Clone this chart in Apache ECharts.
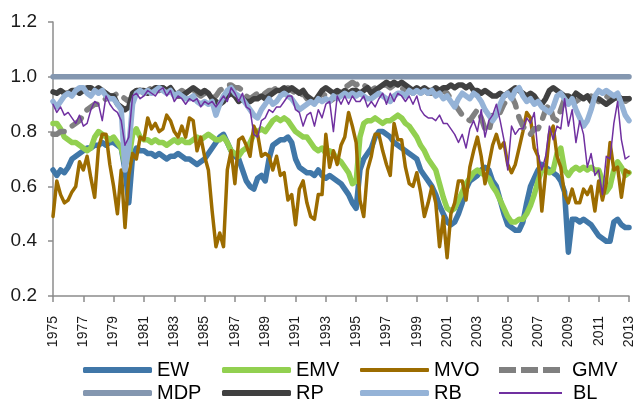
<!DOCTYPE html>
<html>
<head>
<meta charset="utf-8">
<script src="https://cdn.jsdelivr.net/npm/echarts@6/dist/echarts.min.js"></script>
<style>
  html, body { margin: 0; padding: 0; background: #fff; }
  #chart { width: 636px; height: 402px; }
</style>
</head>
<body>
<div id="chart"></div>
<script>
// quarterly points, 1975 Q1 .. 2013 Q1
var quarters = []
for (var yr = 1975; yr <= 2013; yr++) {
  for (var q = 1; q <= 4; q++) {
    if (yr === 2013 && q > 1) break
    quarters.push(yr + ' Q' + q)
  }
}

var EW = [
  0.66, 0.64, 0.66, 0.65, 0.67, 0.70, 0.71, 0.72, 0.73, 0.74, 0.74, 0.75,
  0.75, 0.76, 0.75, 0.76, 0.76, 0.75, 0.74, 0.66, 0.54, 0.71, 0.74, 0.73,
  0.73, 0.72, 0.72, 0.71, 0.72, 0.71, 0.70, 0.71, 0.71, 0.72, 0.71, 0.70,
  0.70, 0.69, 0.68, 0.69, 0.70, 0.72, 0.74, 0.76, 0.78, 0.79, 0.76, 0.73,
  0.71, 0.70, 0.66, 0.62, 0.60, 0.59, 0.63, 0.64, 0.62, 0.70, 0.75, 0.76,
  0.77, 0.77, 0.78, 0.76, 0.70, 0.67, 0.66, 0.65, 0.65, 0.64, 0.66, 0.64,
  0.63, 0.64, 0.63, 0.62, 0.61, 0.59, 0.57, 0.54, 0.52, 0.66, 0.70, 0.72,
  0.74, 0.78, 0.80, 0.80, 0.79, 0.78, 0.76, 0.75, 0.74, 0.73, 0.72, 0.71,
  0.70, 0.66, 0.64, 0.62, 0.60, 0.57, 0.53, 0.50, 0.47, 0.46, 0.47, 0.50,
  0.54, 0.59, 0.62, 0.63, 0.64, 0.66, 0.67, 0.66, 0.62, 0.60, 0.55, 0.50,
  0.46, 0.45, 0.44, 0.44, 0.47, 0.54, 0.60, 0.63, 0.66, 0.68, 0.67, 0.66,
  0.65, 0.64, 0.62, 0.58, 0.36, 0.48, 0.48, 0.47, 0.48, 0.47, 0.46, 0.44,
  0.42, 0.41, 0.40, 0.40, 0.47, 0.48, 0.46, 0.45, 0.45
]
var EMV = [
  0.83, 0.83, 0.81, 0.78, 0.77, 0.76, 0.76, 0.75, 0.74, 0.73, 0.74, 0.78,
  0.80, 0.79, 0.78, 0.77, 0.78, 0.76, 0.74, 0.68, 0.70, 0.79, 0.81, 0.78,
  0.77, 0.77, 0.76, 0.77, 0.76, 0.76, 0.75, 0.76, 0.77, 0.76, 0.77, 0.76,
  0.76, 0.77, 0.78, 0.77, 0.78, 0.79, 0.78, 0.77, 0.77, 0.78, 0.76, 0.73,
  0.72, 0.71, 0.73, 0.74, 0.76, 0.79, 0.80, 0.81, 0.80, 0.82, 0.84, 0.85,
  0.84, 0.85, 0.84, 0.82, 0.80, 0.79, 0.78, 0.78, 0.76, 0.74, 0.73, 0.74,
  0.72, 0.73, 0.72, 0.70, 0.69, 0.67, 0.65, 0.61, 0.62, 0.78, 0.83, 0.84,
  0.84, 0.85, 0.84, 0.83, 0.84, 0.84, 0.85, 0.86, 0.85, 0.83, 0.82, 0.80,
  0.78, 0.75, 0.73, 0.70, 0.68, 0.66, 0.61, 0.56, 0.52, 0.51, 0.52, 0.55,
  0.58, 0.61, 0.63, 0.65, 0.66, 0.65, 0.64, 0.63, 0.60, 0.58, 0.55, 0.52,
  0.49, 0.47, 0.47, 0.48, 0.48, 0.50, 0.53, 0.57, 0.62, 0.66, 0.66, 0.65,
  0.66, 0.72, 0.74, 0.66, 0.64, 0.66, 0.67, 0.66, 0.67, 0.66, 0.67, 0.66,
  0.66, 0.62, 0.58, 0.60, 0.66, 0.69, 0.67, 0.64, 0.65
]
var MVO = [
  0.49, 0.62, 0.57, 0.54, 0.55, 0.58, 0.60, 0.69, 0.66, 0.71, 0.63, 0.56,
  0.74, 0.79, 0.79, 0.68, 0.60, 0.50, 0.66, 0.45, 0.64, 0.72, 0.70, 0.78,
  0.77, 0.85, 0.81, 0.83, 0.80, 0.81, 0.86, 0.84, 0.80, 0.78, 0.82, 0.78,
  0.85, 0.84, 0.73, 0.78, 0.71, 0.66, 0.51, 0.38, 0.43, 0.38, 0.66, 0.73,
  0.61, 0.77, 0.78, 0.75, 0.71, 0.82, 0.79, 0.71, 0.72, 0.71, 0.66, 0.71,
  0.64, 0.65, 0.55, 0.57, 0.46, 0.59, 0.62, 0.54, 0.49, 0.48, 0.57, 0.57,
  0.79, 0.67, 0.73, 0.68, 0.75, 0.78, 0.87, 0.82, 0.76, 0.55, 0.49, 0.66,
  0.71, 0.79, 0.79, 0.73, 0.68, 0.64, 0.83, 0.77, 0.77, 0.67, 0.61, 0.60,
  0.65, 0.58, 0.49, 0.54, 0.60, 0.54, 0.38, 0.49, 0.34, 0.50, 0.54, 0.62,
  0.62, 0.55, 0.67, 0.73, 0.78, 0.71, 0.61, 0.68, 0.75, 0.79, 0.74, 0.76,
  0.68, 0.65, 0.68, 0.74, 0.80, 0.87, 0.85, 0.74, 0.71, 0.51, 0.65, 0.79,
  0.82, 0.71, 0.67, 0.57, 0.54, 0.59, 0.54, 0.54, 0.59, 0.57, 0.60, 0.51,
  0.62, 0.55, 0.61, 0.76, 0.66, 0.67, 0.56, 0.66, 0.65
]
var GMV = [
  0.79, 0.79, 0.80, 0.80, 0.81, 0.82, 0.83, 0.84, 0.86, 0.88, 0.89, 0.90,
  0.90, 0.91, 0.92, 0.93, 0.93, 0.94, 0.93, 0.92, 0.91, 0.93, 0.94, 0.95,
  0.94, 0.95, 0.96, 0.95, 0.95, 0.96, 0.95, 0.94, 0.93, 0.94, 0.95, 0.94,
  0.95, 0.95, 0.94, 0.93, 0.94, 0.93, 0.92, 0.93, 0.95, 0.96, 0.97, 0.97,
  0.96, 0.96, 0.95, 0.93, 0.92, 0.93, 0.94, 0.93, 0.94, 0.95, 0.95, 0.96,
  0.96, 0.95, 0.96, 0.95, 0.94, 0.93, 0.94, 0.92, 0.91, 0.90, 0.92, 0.94,
  0.93, 0.91, 0.92, 0.94, 0.95, 0.96, 0.97, 0.98, 0.97, 0.98, 0.97, 0.96,
  0.95, 0.96, 0.96, 0.97, 0.97, 0.96, 0.97, 0.96, 0.96, 0.95, 0.95, 0.94,
  0.95, 0.94, 0.95, 0.94, 0.94, 0.95, 0.94, 0.95, 0.94, 0.92, 0.90, 0.88,
  0.86, 0.85, 0.84, 0.86, 0.88, 0.85, 0.81, 0.80, 0.86, 0.88, 0.87, 0.90,
  0.92, 0.93, 0.90, 0.85, 0.82, 0.80, 0.79, 0.81, 0.81, 0.84, 0.88, 0.90,
  0.85, 0.84, 0.88, 0.92, 0.93, 0.92, 0.91, 0.92, 0.93, 0.92, 0.93, 0.92,
  0.91, 0.92, 0.93, 0.92, 0.93, 0.92, 0.92, 0.91, 0.92
]
var MDP_LEVEL = 1.0
var RP = [
  0.945, 0.94, 0.95, 0.94, 0.94, 0.95, 0.95, 0.94, 0.95, 0.96, 0.96, 0.95,
  0.96, 0.95, 0.94, 0.93, 0.93, 0.90, 0.89, 0.88, 0.89, 0.94, 0.95, 0.95,
  0.95, 0.94, 0.95, 0.96, 0.96, 0.96, 0.95, 0.96, 0.94, 0.93, 0.93, 0.94,
  0.95, 0.96, 0.95, 0.94, 0.95, 0.94, 0.92, 0.91, 0.90, 0.91, 0.93, 0.94,
  0.93, 0.91, 0.92, 0.91, 0.91, 0.92, 0.92, 0.93, 0.92, 0.93, 0.94, 0.95,
  0.95, 0.96, 0.95, 0.96, 0.95, 0.94, 0.95, 0.93, 0.92, 0.91, 0.93, 0.95,
  0.96, 0.95, 0.94, 0.95, 0.94, 0.95, 0.94, 0.95, 0.95, 0.94, 0.95, 0.96,
  0.94, 0.95, 0.96, 0.97, 0.98, 0.97, 0.98, 0.97, 0.98, 0.97, 0.96, 0.95,
  0.96, 0.95, 0.96, 0.95, 0.95, 0.96, 0.95, 0.96, 0.96, 0.97, 0.96, 0.97,
  0.97, 0.96, 0.97, 0.95, 0.95, 0.94, 0.95, 0.94, 0.93, 0.93, 0.94, 0.93,
  0.94, 0.95, 0.96, 0.95, 0.94, 0.93, 0.94, 0.93, 0.91, 0.90, 0.92, 0.95,
  0.96, 0.95, 0.94, 0.93, 0.93, 0.92, 0.94, 0.93, 0.92, 0.93, 0.91, 0.92,
  0.92, 0.91, 0.90, 0.91, 0.92, 0.93, 0.92, 0.92, 0.92
]
var RB = [
  0.91, 0.89, 0.91, 0.93, 0.94, 0.93, 0.95, 0.96, 0.96, 0.94, 0.93, 0.95,
  0.94, 0.95, 0.93, 0.92, 0.92, 0.90, 0.88, 0.66, 0.74, 0.90, 0.94, 0.95,
  0.94, 0.95, 0.94, 0.95, 0.96, 0.95, 0.94, 0.95, 0.93, 0.94, 0.93, 0.92,
  0.92, 0.93, 0.91, 0.90, 0.91, 0.90, 0.91, 0.86, 0.90, 0.93, 0.95, 0.96,
  0.94, 0.93, 0.92, 0.90, 0.88, 0.86, 0.85, 0.88, 0.90, 0.92, 0.90, 0.91,
  0.93, 0.94, 0.93, 0.92, 0.90, 0.88, 0.89, 0.90, 0.91, 0.90, 0.92, 0.91,
  0.92, 0.91, 0.93, 0.92, 0.93, 0.94, 0.93, 0.94, 0.93, 0.94, 0.93, 0.92,
  0.92, 0.93, 0.94, 0.93, 0.92, 0.91, 0.93, 0.94, 0.94, 0.93, 0.95, 0.94,
  0.95, 0.94, 0.95, 0.94, 0.95, 0.93, 0.94, 0.92, 0.93, 0.91, 0.89, 0.92,
  0.94, 0.93, 0.92, 0.94, 0.93, 0.91, 0.88, 0.86, 0.84, 0.86, 0.90, 0.93,
  0.94, 0.92, 0.95, 0.96, 0.93, 0.91, 0.92, 0.90, 0.91, 0.89, 0.88, 0.87,
  0.89, 0.93, 0.94, 0.92, 0.90, 0.92, 0.88, 0.85, 0.82, 0.84, 0.88, 0.93,
  0.95, 0.94, 0.95, 0.94, 0.93, 0.94, 0.90, 0.86, 0.84
]
var BL = [
  0.90, 0.87, 0.89, 0.86, 0.87, 0.85, 0.83, 0.86, 0.82, 0.83, 0.88, 0.91,
  0.90, 0.84, 0.93, 0.90, 0.88, 0.87, 0.84, 0.75, 0.78, 0.93, 0.94, 0.92,
  0.93, 0.95, 0.94, 0.93, 0.95, 0.96, 0.93, 0.95, 0.91, 0.93, 0.92, 0.90,
  0.92, 0.91, 0.92, 0.89, 0.91, 0.90, 0.91, 0.89, 0.91, 0.93, 0.91, 0.96,
  0.94, 0.91, 0.94, 0.89, 0.88, 0.79, 0.78, 0.84, 0.85, 0.88, 0.87, 0.89,
  0.89, 0.91, 0.93, 0.93, 0.88, 0.87, 0.82, 0.86, 0.87, 0.82, 0.88, 0.85,
  0.90, 0.91, 0.80, 0.93, 0.90, 0.93, 0.90, 0.93, 0.91, 0.91, 0.93, 0.89,
  0.91, 0.89, 0.92, 0.94, 0.90, 0.94, 0.91, 0.94, 0.93, 0.91, 0.93, 0.90,
  0.93, 0.88, 0.86, 0.85, 0.85, 0.84, 0.86, 0.83, 0.83, 0.81, 0.79, 0.76,
  0.79, 0.74, 0.81, 0.84, 0.80, 0.88, 0.78, 0.84, 0.86, 0.90, 0.84, 0.77,
  0.66, 0.82, 0.79, 0.81, 0.81, 0.85, 0.83, 0.87, 0.72, 0.66, 0.71, 0.82,
  0.77, 0.82, 0.81, 0.92, 0.82, 0.88, 0.76, 0.84, 0.79, 0.67, 0.72, 0.64,
  0.66, 0.57, 0.71, 0.70, 0.83, 0.91, 0.77, 0.70, 0.71
]

var names = ['EW', 'EMV', 'MVO', 'GMV', 'MDP', 'RP', 'RB', 'BL']
var colors = {
  EW: '#4077a8', EMV: '#92d050', MVO: '#9c6c00', GMV: '#808080',
  MDP: '#8497b0', RP: '#404040', RB: '#95b3d7', BL: '#7030a0'
}
var widths = { EW: 5.5, EMV: 5.5, MVO: 3.5, GMV: 5.5, MDP: 5.5, RP: 5.5, RB: 5.5, BL: 1.5 }

function lineSeries(name, data, dash) {
  return {
    name: name,
    type: 'line',
    data: data,
    symbol: 'none',
    showSymbol: false,
    smooth: false,
    lineStyle: {
      color: colors[name],
      width: widths[name],
      type: dash || 'solid',
      cap: 'round',
      join: 'round'
    },
    itemStyle: { color: colors[name] }
  }
}

var mdp = quarters.map(function() { return MDP_LEVEL })

var series = [
  lineSeries('EW', EW),
  lineSeries('EMV', EMV),
  lineSeries('MVO', MVO),
  lineSeries('GMV', GMV, [12, 10]),
  lineSeries('MDP', mdp),
  lineSeries('RP', RP),
  lineSeries('RB', RB),
  lineSeries('BL', BL)
]

// legend laid out as a 4x2 grid like the original (x of icon, y of row centre)
var legendPos = [
  [83, 370], [222, 370], [360, 370], [499, 370],
  [83, 393], [222, 393], [360, 393], [499, 393]
]
var dashIcon = 'path://M0,0H17V6H0Z M22,0H39V6H22Z M44,0H61V6H44Z'
var legends = names.map(function(n, i) {
  var h = Math.max(2, Math.round(widths[n]))
  var narrow = n === 'GMV' || n === 'BL'
  return {
    data: [n],
    left: legendPos[i][0],
    top: legendPos[i][1] - 18,
    itemWidth: narrow ? 63 : 69,
    itemHeight: h,
    itemGap: 0,
    padding: 0,
    icon: n === 'GMV' ? dashIcon : (n === 'BL' ? 'rect' : 'roundRect'),
    itemStyle: { borderWidth: 0 },
    lineStyle: { width: 0 },
    textStyle: {
      fontSize: 20,
      lineHeight: 20,
      color: '#000',
      padding: [0, 0, 16, narrow ? 6 : 0],
      fontFamily: 'Liberation Sans, Arial, sans-serif'
    },
    selectedMode: false
  }
})

var chart = echarts.init(document.getElementById('chart'))
chart.setOption({
  animation: false,
  grid: { left: 53, right: 4, top: 22, bottom: 106, containLabel: false },
  legend: legends,
  xAxis: {
    type: 'category',
    data: quarters,
    boundaryGap: false,
    axisLine: { lineStyle: { color: '#8c8c8c', width: 1.5 } },
    axisTick: {
      show: true,
      length: 6,
      interval: function(i) { return i % 8 === 0 },
      lineStyle: { color: '#8c8c8c', width: 1.5 }
    },
    axisLabel: {
      rotate: 90,
      interval: function(i) { return i % 8 === 0 },
      formatter: function(v) { return v.slice(0, 4) },
      fontSize: 14,
      margin: 20,
      color: '#1a1a1a',
      fontFamily: 'Liberation Sans, Arial, sans-serif'
    },
    splitLine: { show: false }
  },
  yAxis: {
    type: 'value',
    min: 0.2,
    max: 1.2,
    interval: 0.2,
    axisLine: { show: true, lineStyle: { color: '#8c8c8c', width: 1.5 } },
    axisTick: { show: true, length: 5, lineStyle: { color: '#8c8c8c', width: 1.5 } },
    axisLabel: {
      formatter: function(v) { return v.toFixed(1) },
      fontSize: 19,
      margin: 16,
      color: '#1a1a1a',
      fontFamily: 'Liberation Sans, Arial, sans-serif'
    },
    splitLine: { show: false }
  },
  series: series
})
</script>
</body>
</html>
